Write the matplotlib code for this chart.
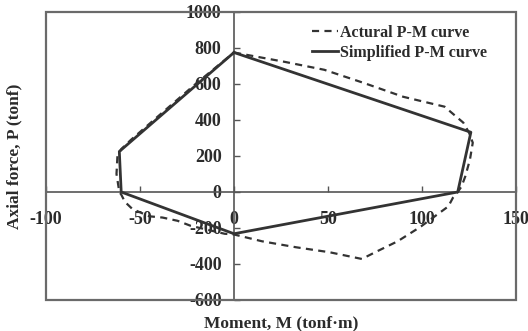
import matplotlib
matplotlib.use("Agg")
import matplotlib.pyplot as plt
from matplotlib.patches import Rectangle

# Interaction diagram data (moment in tonf·m, axial force in tonf)
actual_m = [0, 27, 48, 69, 90, 112, 122, 125, 127, 125.5, 123, 121, 119, 116.5, 114,
            99.5, 97, 87, 76, 68, 51, 33, 15, 0,
            -5, -23, -30, -38, -45, -54, -58, -60, -61, -62.5, -62, -60, -55, -40, -20, 0]
actual_p = [775, 723, 679, 606, 529, 474, 385, 330, 274, 180, 86, 30, 0, -31, -80,
            -191, -208, -274, -330, -372, -335, -307, -274, -236,
            -232, -188, -160, -142, -135, -95, -55, -14, 0, 100, 200, 238, 288, 424, 604, 775]

simplified_m = [0, 126, 119, 0, -60, -61, 0]
simplified_p = [775, 332, 0, -232, 0, 225, 775]

x_ticks = [-100, -50, 0, 50, 100, 150]
y_ticks = [-600, -400, -200, 0, 200, 400, 600, 800, 1000]

TXT = "#2b2b2b"
LINE = "#333333"
FRAME = "#6a6a6a"
FONT = "Liberation Serif"

plt.rcParams["font.family"] = [FONT, "DejaVu Serif"]
plt.rcParams["font.weight"] = "bold"
plt.rcParams["axes.unicode_minus"] = False

fig = plt.figure(figsize=(5.28, 3.31), dpi=100)
ax = fig.add_axes([46 / 528, 1 - 300 / 331, 470 / 528, 288 / 331])

ax.plot(actual_m, actual_p, color=LINE, lw=1.6, dashes=(3.2, 2.4),
        label="Actural P-M curve", zorder=3)
ax.plot(simplified_m, simplified_p, color=LINE, lw=2.0,
        label="Simplified P-M curve", zorder=4)

ax.set_xlim(-100, 150)
ax.set_ylim(-600, 1000)
ax.set_xticks(x_ticks)
ax.set_yticks(y_ticks)

# axes cross at the origin, with a box drawn around the plotting area
ax.spines["left"].set_position("zero")
ax.spines["bottom"].set_position("zero")
for s in ("left", "bottom"):
    ax.spines[s].set_color("#555555")
    ax.spines[s].set_linewidth(1.2)
    ax.spines[s].set_zorder(2)
for s in ("top", "right"):
    ax.spines[s].set_visible(False)
ax.add_patch(Rectangle((0, 0), 1, 1, transform=ax.transAxes, fill=False,
                       edgecolor=FRAME, lw=1.6, clip_on=False, zorder=5))

ax.tick_params(axis="y", direction="in", length=4, width=1, color="#555555",
               pad=9, labelsize=13, labelcolor=TXT)
ax.tick_params(axis="x", direction="in", length=4, width=1, color="#555555",
               pad=14, labelsize=13, labelcolor=TXT)
for lab in ax.get_xticklabels() + ax.get_yticklabels():
    lab.set_fontweight("bold")

ax.set_xlabel("Moment, M (tonf\u00b7m)", fontsize=12.5, fontweight="bold", color=TXT)
ax.set_ylabel("Axial force, P (tonf)", fontsize=12.5, fontweight="bold", color=TXT)
ax.xaxis.set_label_coords(0.5, -0.055)
ax.yaxis.set_label_coords(-0.05, 0.5)

leg = ax.legend(loc="upper left", bbox_to_anchor=(0.566, 0.955), frameon=False,
                fontsize=11.5, handlelength=1.6, handletextpad=0.15,
                labelspacing=0.25, borderpad=0, borderaxespad=0)
for t in leg.get_texts():
    t.set_color(TXT)
    t.set_fontweight("bold")

fig.savefig("out.png", dpi=100)
